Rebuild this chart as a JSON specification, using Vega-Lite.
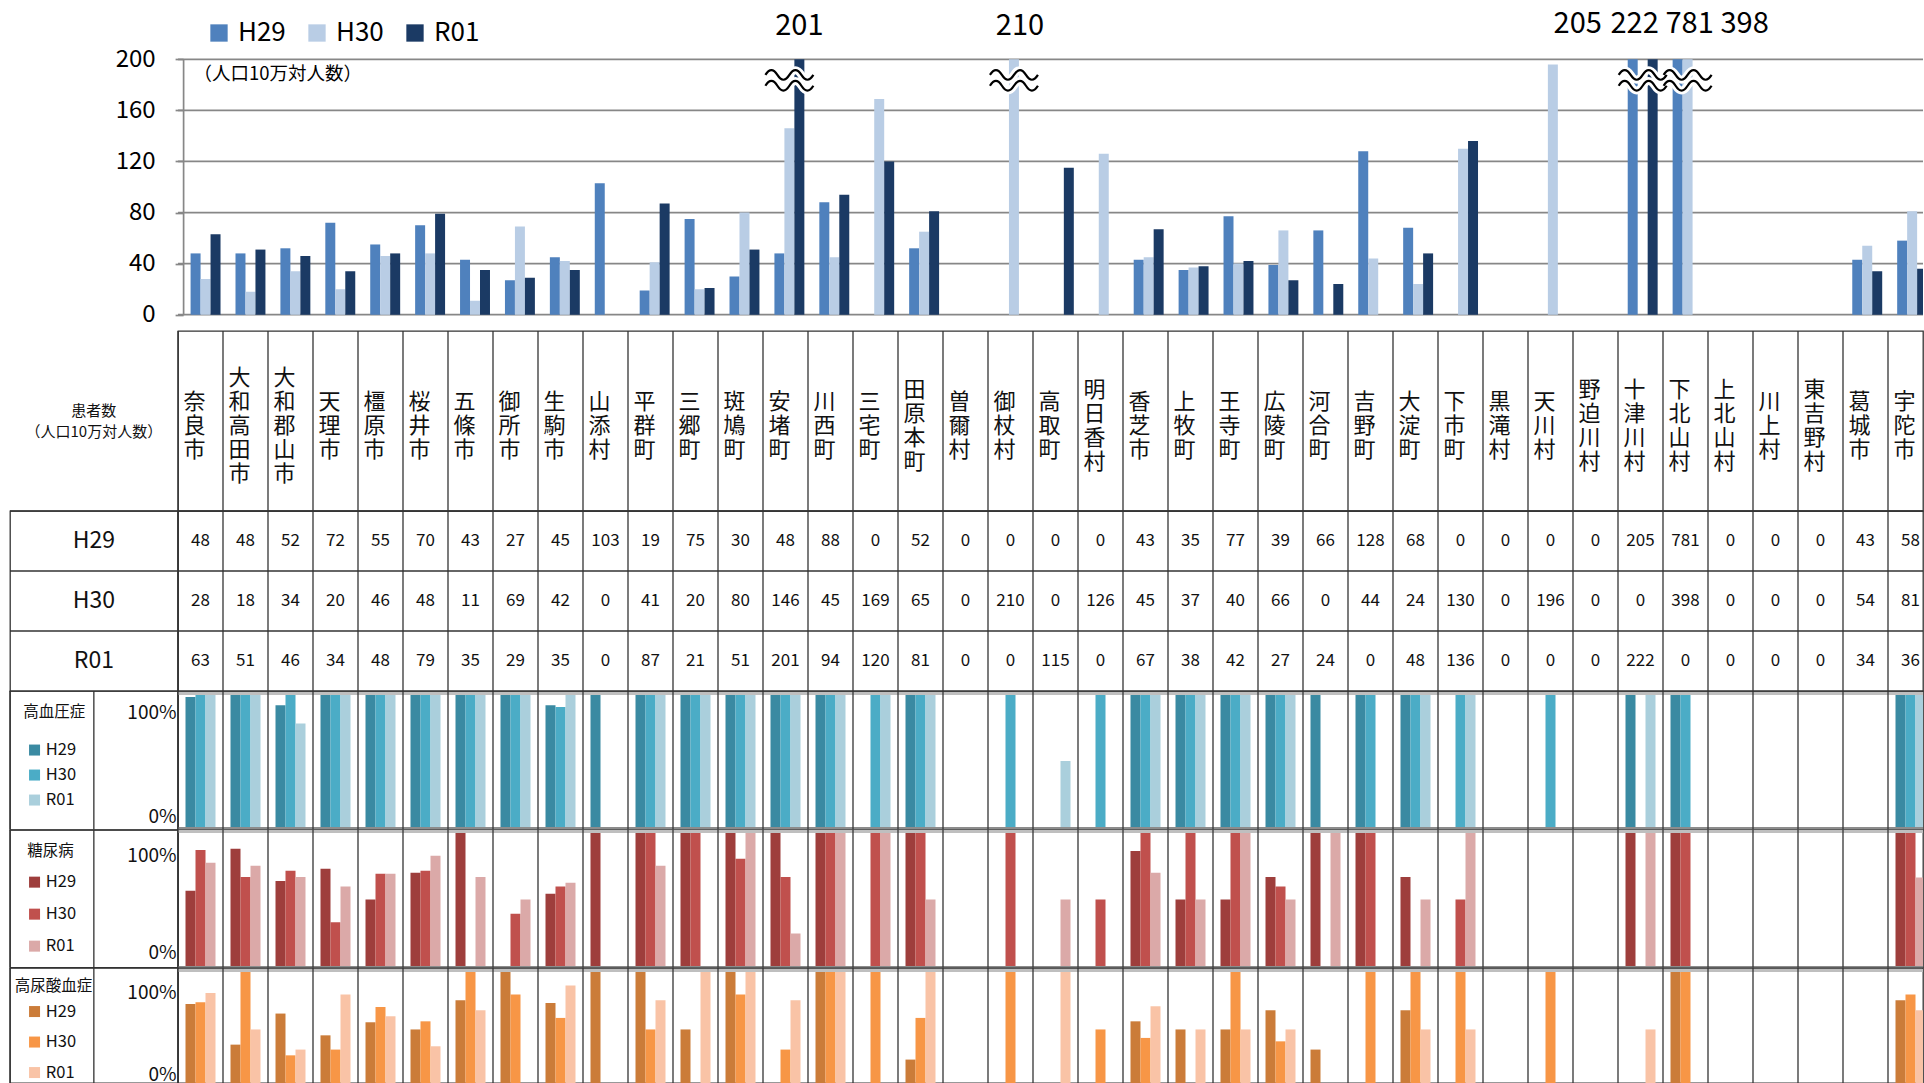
{
"$schema": "https://vega.github.io/schema/vega-lite/v6.json",
"background": "white",
"padding": {"left": 8, "top": 0, "right": 0, "bottom": 0},
"autosize": {"type": "pad"},
"config": {
  "font": "Noto Sans CJK JP",
  "view": {"stroke": "#333333", "strokeWidth": 1.3},
  "text": {"color": "#111111"},
  "axis": {"labelColor": "#111111", "labelFont": "Noto Sans CJK JP", "labelFlush": false},
  "legend": {"labelColor": "#111111", "titleColor": "#111111", "labelFont": "Noto Sans CJK JP", "titleFont": "Noto Sans CJK JP"}
},
"datasets": {
"pop": [
{"m":"奈良市","y":"H29","v":48},{"m":"奈良市","y":"H30","v":28},{"m":"奈良市","y":"R01","v":63},
{"m":"大和高田市","y":"H29","v":48},{"m":"大和高田市","y":"H30","v":18},{"m":"大和高田市","y":"R01","v":51},
{"m":"大和郡山市","y":"H29","v":52},{"m":"大和郡山市","y":"H30","v":34},{"m":"大和郡山市","y":"R01","v":46},
{"m":"天理市","y":"H29","v":72},{"m":"天理市","y":"H30","v":20},{"m":"天理市","y":"R01","v":34},
{"m":"橿原市","y":"H29","v":55},{"m":"橿原市","y":"H30","v":46},{"m":"橿原市","y":"R01","v":48},
{"m":"桜井市","y":"H29","v":70},{"m":"桜井市","y":"H30","v":48},{"m":"桜井市","y":"R01","v":79},
{"m":"五條市","y":"H29","v":43},{"m":"五條市","y":"H30","v":11},{"m":"五條市","y":"R01","v":35},
{"m":"御所市","y":"H29","v":27},{"m":"御所市","y":"H30","v":69},{"m":"御所市","y":"R01","v":29},
{"m":"生駒市","y":"H29","v":45},{"m":"生駒市","y":"H30","v":42},{"m":"生駒市","y":"R01","v":35},
{"m":"山添村","y":"H29","v":103},{"m":"山添村","y":"H30","v":0},{"m":"山添村","y":"R01","v":0},
{"m":"平群町","y":"H29","v":19},{"m":"平群町","y":"H30","v":41},{"m":"平群町","y":"R01","v":87},
{"m":"三郷町","y":"H29","v":75},{"m":"三郷町","y":"H30","v":20},{"m":"三郷町","y":"R01","v":21},
{"m":"斑鳩町","y":"H29","v":30},{"m":"斑鳩町","y":"H30","v":80},{"m":"斑鳩町","y":"R01","v":51},
{"m":"安堵町","y":"H29","v":48},{"m":"安堵町","y":"H30","v":146},{"m":"安堵町","y":"R01","v":201},
{"m":"川西町","y":"H29","v":88},{"m":"川西町","y":"H30","v":45},{"m":"川西町","y":"R01","v":94},
{"m":"三宅町","y":"H29","v":0},{"m":"三宅町","y":"H30","v":169},{"m":"三宅町","y":"R01","v":120},
{"m":"田原本町","y":"H29","v":52},{"m":"田原本町","y":"H30","v":65},{"m":"田原本町","y":"R01","v":81},
{"m":"曽爾村","y":"H29","v":0},{"m":"曽爾村","y":"H30","v":0},{"m":"曽爾村","y":"R01","v":0},
{"m":"御杖村","y":"H29","v":0},{"m":"御杖村","y":"H30","v":210},{"m":"御杖村","y":"R01","v":0},
{"m":"高取町","y":"H29","v":0},{"m":"高取町","y":"H30","v":0},{"m":"高取町","y":"R01","v":115},
{"m":"明日香村","y":"H29","v":0},{"m":"明日香村","y":"H30","v":126},{"m":"明日香村","y":"R01","v":0},
{"m":"香芝市","y":"H29","v":43},{"m":"香芝市","y":"H30","v":45},{"m":"香芝市","y":"R01","v":67},
{"m":"上牧町","y":"H29","v":35},{"m":"上牧町","y":"H30","v":37},{"m":"上牧町","y":"R01","v":38},
{"m":"王寺町","y":"H29","v":77},{"m":"王寺町","y":"H30","v":40},{"m":"王寺町","y":"R01","v":42},
{"m":"広陵町","y":"H29","v":39},{"m":"広陵町","y":"H30","v":66},{"m":"広陵町","y":"R01","v":27},
{"m":"河合町","y":"H29","v":66},{"m":"河合町","y":"H30","v":0},{"m":"河合町","y":"R01","v":24},
{"m":"吉野町","y":"H29","v":128},{"m":"吉野町","y":"H30","v":44},{"m":"吉野町","y":"R01","v":0},
{"m":"大淀町","y":"H29","v":68},{"m":"大淀町","y":"H30","v":24},{"m":"大淀町","y":"R01","v":48},
{"m":"下市町","y":"H29","v":0},{"m":"下市町","y":"H30","v":130},{"m":"下市町","y":"R01","v":136},
{"m":"黒滝村","y":"H29","v":0},{"m":"黒滝村","y":"H30","v":0},{"m":"黒滝村","y":"R01","v":0},
{"m":"天川村","y":"H29","v":0},{"m":"天川村","y":"H30","v":196},{"m":"天川村","y":"R01","v":0},
{"m":"野迫川村","y":"H29","v":0},{"m":"野迫川村","y":"H30","v":0},{"m":"野迫川村","y":"R01","v":0},
{"m":"十津川村","y":"H29","v":205},{"m":"十津川村","y":"H30","v":0},{"m":"十津川村","y":"R01","v":222},
{"m":"下北山村","y":"H29","v":781},{"m":"下北山村","y":"H30","v":398},{"m":"下北山村","y":"R01","v":0},
{"m":"上北山村","y":"H29","v":0},{"m":"上北山村","y":"H30","v":0},{"m":"上北山村","y":"R01","v":0},
{"m":"川上村","y":"H29","v":0},{"m":"川上村","y":"H30","v":0},{"m":"川上村","y":"R01","v":0},
{"m":"東吉野村","y":"H29","v":0},{"m":"東吉野村","y":"H30","v":0},{"m":"東吉野村","y":"R01","v":0},
{"m":"葛城市","y":"H29","v":43},{"m":"葛城市","y":"H30","v":54},{"m":"葛城市","y":"R01","v":34},
{"m":"宇陀市","y":"H29","v":58},{"m":"宇陀市","y":"H30","v":81},{"m":"宇陀市","y":"R01","v":36}
],
"pct": [
{"m":"奈良市","y":"H29","h":0.975,"d":0.565,"u":0.717},{"m":"奈良市","y":"H30","h":1,"d":0.865,"u":0.731},{"m":"奈良市","y":"R01","h":1,"d":0.771,"u":0.81},
{"m":"大和高田市","y":"H29","h":1,"d":0.875,"u":0.371},{"m":"大和高田市","y":"H30","h":1,"d":0.666,"u":1},{"m":"大和高田市","y":"R01","h":1,"d":0.749,"u":0.5},
{"m":"大和郡山市","y":"H29","h":0.914,"d":0.636,"u":0.635},{"m":"大和郡山市","y":"H30","h":1,"d":0.713,"u":0.28},{"m":"大和郡山市","y":"R01","h":0.778,"d":0.666,"u":0.329},
{"m":"天理市","y":"H29","h":1,"d":0.727,"u":0.45},{"m":"天理市","y":"H30","h":1,"d":0.333,"u":0.329},{"m":"天理市","y":"R01","h":1,"d":0.597,"u":0.796},
{"m":"橿原市","y":"H29","h":1,"d":0.5,"u":0.561},{"m":"橿原市","y":"H30","h":1,"d":0.69,"u":0.691},{"m":"橿原市","y":"R01","h":1,"d":0.69,"u":0.612},
{"m":"桜井市","y":"H29","h":1,"d":0.698,"u":0.5},{"m":"桜井市","y":"H30","h":1,"d":0.713,"u":0.569},{"m":"桜井市","y":"R01","h":1,"d":0.823,"u":0.357},
{"m":"五條市","y":"H29","h":1,"d":1,"u":0.748},{"m":"五條市","y":"H30","h":1,"d":0,"u":1},{"m":"五條市","y":"R01","h":1,"d":0.666,"u":0.663},
{"m":"御所市","y":"H29","h":1,"d":0,"u":1},{"m":"御所市","y":"H30","h":1,"d":0.396,"u":0.796},{"m":"御所市","y":"R01","h":1,"d":0.5,"u":0},
{"m":"生駒市","y":"H29","h":0.914,"d":0.543,"u":0.725},{"m":"生駒市","y":"H30","h":0.901,"d":0.597,"u":0.598},{"m":"生駒市","y":"R01","h":1,"d":0.624,"u":0.873},
{"m":"山添村","y":"H29","h":1,"d":1,"u":1},{"m":"山添村","y":"H30","h":0,"d":0,"u":0},{"m":"山添村","y":"R01","h":0,"d":0,"u":0},
{"m":"平群町","y":"H29","h":1,"d":1,"u":1},{"m":"平群町","y":"H30","h":1,"d":1,"u":0.5},{"m":"平群町","y":"R01","h":1,"d":0.749,"u":0.748},
{"m":"三郷町","y":"H29","h":1,"d":1,"u":0.5},{"m":"三郷町","y":"H30","h":1,"d":1,"u":0},{"m":"三郷町","y":"R01","h":1,"d":0,"u":1},
{"m":"斑鳩町","y":"H29","h":1,"d":1,"u":1},{"m":"斑鳩町","y":"H30","h":1,"d":0.8,"u":0.796},{"m":"斑鳩町","y":"R01","h":1,"d":1,"u":1},
{"m":"安堵町","y":"H29","h":1,"d":1,"u":0},{"m":"安堵町","y":"H30","h":1,"d":0.666,"u":0.329},{"m":"安堵町","y":"R01","h":1,"d":0.25,"u":0.748},
{"m":"川西町","y":"H29","h":1,"d":1,"u":1},{"m":"川西町","y":"H30","h":1,"d":1,"u":1},{"m":"川西町","y":"R01","h":1,"d":1,"u":1},
{"m":"三宅町","y":"H29","h":0,"d":0,"u":0},{"m":"三宅町","y":"H30","h":1,"d":1,"u":1},{"m":"三宅町","y":"R01","h":1,"d":1,"u":0},
{"m":"田原本町","y":"H29","h":1,"d":1,"u":0.244},{"m":"田原本町","y":"H30","h":1,"d":1,"u":0.598},{"m":"田原本町","y":"R01","h":1,"d":0.5,"u":1},
{"m":"曽爾村","y":"H29","h":0,"d":0,"u":0},{"m":"曽爾村","y":"H30","h":0,"d":0,"u":0},{"m":"曽爾村","y":"R01","h":0,"d":0,"u":0},
{"m":"御杖村","y":"H29","h":0,"d":0,"u":0},{"m":"御杖村","y":"H30","h":1,"d":1,"u":1},{"m":"御杖村","y":"R01","h":0,"d":0,"u":0},
{"m":"高取町","y":"H29","h":0,"d":0,"u":0},{"m":"高取町","y":"H30","h":0,"d":0,"u":0},{"m":"高取町","y":"R01","h":0.5,"d":0.5,"u":1},
{"m":"明日香村","y":"H29","h":0,"d":0,"u":0},{"m":"明日香村","y":"H30","h":1,"d":0.5,"u":0.5},{"m":"明日香村","y":"R01","h":0,"d":0,"u":0},
{"m":"香芝市","y":"H29","h":1,"d":0.857,"u":0.569},{"m":"香芝市","y":"H30","h":1,"d":1,"u":0.428},{"m":"香芝市","y":"R01","h":1,"d":0.698,"u":0.697},
{"m":"上牧町","y":"H29","h":1,"d":0.5,"u":0.5},{"m":"上牧町","y":"H30","h":1,"d":1,"u":0},{"m":"上牧町","y":"R01","h":1,"d":0.5,"u":0.5},
{"m":"王寺町","y":"H29","h":1,"d":0.5,"u":0.5},{"m":"王寺町","y":"H30","h":1,"d":1,"u":1},{"m":"王寺町","y":"R01","h":1,"d":1,"u":0.5},
{"m":"広陵町","y":"H29","h":1,"d":0.666,"u":0.663},{"m":"広陵町","y":"H30","h":1,"d":0.597,"u":0.399},{"m":"広陵町","y":"R01","h":1,"d":0.5,"u":0.5},
{"m":"河合町","y":"H29","h":1,"d":1,"u":0.329},{"m":"河合町","y":"H30","h":0,"d":0,"u":0},{"m":"河合町","y":"R01","h":0,"d":1,"u":0},
{"m":"吉野町","y":"H29","h":1,"d":1,"u":0},{"m":"吉野町","y":"H30","h":1,"d":1,"u":1},{"m":"吉野町","y":"R01","h":0,"d":0,"u":0},
{"m":"大淀町","y":"H29","h":1,"d":0.666,"u":0.663},{"m":"大淀町","y":"H30","h":1,"d":0,"u":1},{"m":"大淀町","y":"R01","h":1,"d":0.5,"u":0.5},
{"m":"下市町","y":"H29","h":0,"d":0,"u":0},{"m":"下市町","y":"H30","h":1,"d":0.5,"u":1},{"m":"下市町","y":"R01","h":1,"d":1,"u":0.5},
{"m":"黒滝村","y":"H29","h":0,"d":0,"u":0},{"m":"黒滝村","y":"H30","h":0,"d":0,"u":0},{"m":"黒滝村","y":"R01","h":0,"d":0,"u":0},
{"m":"天川村","y":"H29","h":0,"d":0,"u":0},{"m":"天川村","y":"H30","h":1,"d":0,"u":1},{"m":"天川村","y":"R01","h":0,"d":0,"u":0},
{"m":"野迫川村","y":"H29","h":0,"d":0,"u":0},{"m":"野迫川村","y":"H30","h":0,"d":0,"u":0},{"m":"野迫川村","y":"R01","h":0,"d":0,"u":0},
{"m":"十津川村","y":"H29","h":1,"d":1,"u":0},{"m":"十津川村","y":"H30","h":0,"d":0,"u":0},{"m":"十津川村","y":"R01","h":1,"d":1,"u":0.5},
{"m":"下北山村","y":"H29","h":1,"d":1,"u":1},{"m":"下北山村","y":"H30","h":1,"d":1,"u":1},{"m":"下北山村","y":"R01","h":0,"d":0,"u":0},
{"m":"上北山村","y":"H29","h":0,"d":0,"u":0},{"m":"上北山村","y":"H30","h":0,"d":0,"u":0},{"m":"上北山村","y":"R01","h":0,"d":0,"u":0},
{"m":"川上村","y":"H29","h":0,"d":0,"u":0},{"m":"川上村","y":"H30","h":0,"d":0,"u":0},{"m":"川上村","y":"R01","h":0,"d":0,"u":0},
{"m":"東吉野村","y":"H29","h":0,"d":0,"u":0},{"m":"東吉野村","y":"H30","h":0,"d":0,"u":0},{"m":"東吉野村","y":"R01","h":0,"d":0,"u":0},
{"m":"葛城市","y":"H29","h":0,"d":0,"u":0},{"m":"葛城市","y":"H30","h":0,"d":0,"u":0},{"m":"葛城市","y":"R01","h":0,"d":0,"u":0},
{"m":"宇陀市","y":"H29","h":1,"d":1,"u":0.748},{"m":"宇陀市","y":"H30","h":1,"d":1,"u":0.796},{"m":"宇陀市","y":"R01","h":1,"d":0.663,"u":0.663}
]
},
"columns": 2,
"spacing": 0,
"bounds": "flush",
"resolve": {"scale": {"color": "independent", "xOffset": "independent", "x": "independent", "y": "independent"}},
"concat": [
{
  "width": 167.7, "height": 330.7, "view": {"stroke": null},
  "data": {"values": [{"k": 1}]},
  "mark": {"type": "text", "text": " "}
},
{
  "width": 1745, "height": 330.7, "view": {"stroke": null},
  "layer": [
    {
      "data": {"values": [{"g": 0}, {"g": 40}, {"g": 80}, {"g": 120}, {"g": 160}, {"g": 200}]},
      "mark": {"type": "rule", "color": "#878787", "strokeWidth": 1.7},
      "encoding": {
        "y": {"field": "g", "type": "quantitative",
          "scale": {"domain": [0, 200], "range": [314.7, 59.3], "clamp": true, "nice": false, "zero": true},
          "axis": {"values": [0, 40, 80, 120, 160, 200], "title": null, "grid": false, "domainColor": "#878787", "domainWidth": 1.7, "tickColor": "#878787", "tickWidth": 1.7, "tickSize": 8, "labelFontSize": 24, "labelPadding": 20, "labelColor": "#000000", "offset": -5.1, "labelFlush": false}}
      }
    },
    {
      "data": {"name": "pop"},
      "mark": {"type": "bar", "clip": true},
      "encoding": {
        "x": {"field": "m", "type": "nominal", "axis": null,
          "scale": {"domain": ["奈良市","大和高田市","大和郡山市","天理市","橿原市","桜井市","五條市","御所市","生駒市","山添村","平群町","三郷町","斑鳩町","安堵町","川西町","三宅町","田原本町","曽爾村","御杖村","高取町","明日香村","香芝市","上牧町","王寺町","広陵町","河合町","吉野町","大淀町","下市町","黒滝村","天川村","野迫川村","十津川村","下北山村","上北山村","川上村","東吉野村","葛城市","宇陀市"], "range": [5.1, 1756.6], "paddingInner": 0, "paddingOuter": 0}},
        "xOffset": {"field": "y", "type": "nominal", "scale": {"paddingInner": 0, "paddingOuter": 0.75}},
        "y": {"field": "v", "type": "quantitative"},
        "color": {"field": "y", "type": "nominal",
          "scale": {"domain": ["H29", "H30", "R01"], "range": ["#4F81BD", "#B9CDE5", "#1B3A64"]},
          "legend": {"orient": "none", "legendX": 28, "legendY": 20, "direction": "horizontal", "title": null, "symbolType": "square", "symbolSize": 300, "symbolStrokeWidth": 0, "labelFontSize": 26, "labelOffset": 6, "columnPadding": 18, "padding": 0, "labelColor": "#000000"}}
      }
    },
    {
      "data": {"name": "pop"},
      "transform": [{"filter": "datum.v > 200"}, {"aggregate": [{"op": "count", "as": "n"}], "groupby": ["m"]}],
      "mark": {"type": "point", "shape": "M-1,-0.2Q-0.75,-0.6,-0.5,-0.2T0,-0.2T0.5,-0.2T1,-0.2M-1,0.25Q-0.75,-0.15,-0.5,0.25T0,0.25T0.5,0.25T1,0.25", "size": 2304, "filled": false, "stroke": "white", "strokeWidth": 8, "opacity": 1},
      "encoding": {"x": {"field": "m", "type": "nominal"}, "y": {"datum": 184}}
    },
    {
      "data": {"name": "pop"},
      "transform": [{"filter": "datum.v > 200"}, {"aggregate": [{"op": "count", "as": "n"}], "groupby": ["m"]}],
      "mark": {"type": "point", "shape": "M-1,-0.2Q-0.75,-0.6,-0.5,-0.2T0,-0.2T0.5,-0.2T1,-0.2M-1,0.25Q-0.75,-0.15,-0.5,0.25T0,0.25T0.5,0.25T1,0.25", "size": 2304, "filled": false, "stroke": "black", "strokeWidth": 2.2, "opacity": 1},
      "encoding": {"x": {"field": "m", "type": "nominal"}, "y": {"datum": 184}}
    },
    {
      "data": {"name": "pop"},
      "transform": [{"filter": "datum.v > 200 && datum.m == '安堵町'"}],
      "mark": {"type": "text", "fontSize": 29, "dy": -33, "baseline": "middle", "color": "#000000"},
      "encoding": {"x": {"field": "m", "type": "nominal"}, "xOffset": {"field": "y", "type": "nominal"}, "y": {"datum": 200}, "text": {"field": "v", "type": "quantitative"}}
    },
    {
      "data": {"name": "pop"},
      "transform": [{"filter": "datum.v > 200 && datum.m == '御杖村'"}],
      "mark": {"type": "text", "fontSize": 29, "dy": -33, "dx": 6, "baseline": "middle", "color": "#000000"},
      "encoding": {"x": {"field": "m", "type": "nominal"}, "xOffset": {"field": "y", "type": "nominal"}, "y": {"datum": 200}, "text": {"field": "v", "type": "quantitative"}}
    },
    {
      "data": {"name": "pop"},
      "transform": [{"filter": "datum.m == '十津川村' && datum.y == 'H29'"}],
      "mark": {"type": "text", "fontSize": 29, "dy": -35, "dx": -55, "baseline": "middle", "color": "#000000"},
      "encoding": {"x": {"field": "m", "type": "nominal"}, "xOffset": {"field": "y", "type": "nominal"}, "y": {"datum": 200}, "text": {"field": "v", "type": "quantitative"}}
    },
    {
      "data": {"name": "pop"},
      "transform": [{"filter": "datum.m == '十津川村' && datum.y == 'R01'"}],
      "mark": {"type": "text", "fontSize": 29, "dy": -35, "dx": -18, "baseline": "middle", "color": "#000000"},
      "encoding": {"x": {"field": "m", "type": "nominal"}, "xOffset": {"field": "y", "type": "nominal"}, "y": {"datum": 200}, "text": {"field": "v", "type": "quantitative"}}
    },
    {
      "data": {"name": "pop"},
      "transform": [{"filter": "datum.m == '下北山村' && datum.y == 'H29'"}],
      "mark": {"type": "text", "fontSize": 29, "dy": -35, "dx": 12, "baseline": "middle", "color": "#000000"},
      "encoding": {"x": {"field": "m", "type": "nominal"}, "xOffset": {"field": "y", "type": "nominal"}, "y": {"datum": 200}, "text": {"field": "v", "type": "quantitative"}}
    },
    {
      "data": {"name": "pop"},
      "transform": [{"filter": "datum.m == '下北山村' && datum.y == 'H30'"}],
      "mark": {"type": "text", "fontSize": 29, "dy": -35, "dx": 57, "baseline": "middle", "color": "#000000"},
      "encoding": {"x": {"field": "m", "type": "nominal"}, "xOffset": {"field": "y", "type": "nominal"}, "y": {"datum": 200}, "text": {"field": "v", "type": "quantitative"}}
    },
    {
      "data": {"values": [{"t": "（人口10万対人数）"}]},
      "mark": {"type": "text", "align": "left", "baseline": "middle", "fontSize": 18.5, "dx": -12, "color": "#000000"},
      "encoding": {"x": {"datum": "奈良市"}, "y": {"datum": 188.5}, "text": {"field": "t", "type": "nominal"}}
    }
  ]
},
{
  "width": 167.7, "height": 180,
  "data": {"values": [{"k": 1}]},
  "mark": {"type": "text", "text": ["患者数", "（人口10万対人数）"], "fontSize": 15, "lineHeight": 21, "baseline": "middle", "align": "center", "dy": -10.5}
},
{
  "width": 1745, "height": 180,
  "data": {"name": "pop"},
  "transform": [{"filter": "datum.y == 'H29'"}, {"calculate": "split(datum.m, '')", "as": "chars"}, {"calculate": "length(datum.m)", "as": "n"}],
  "layer": [
    {
      "mark": {"type": "text", "fontSize": 22, "lineHeight": 24, "baseline": "middle", "align": "center", "dx": -6},
      "encoding": {
        "x": {"field": "m", "type": "nominal", "axis": null,
          "scale": {"domain": ["奈良市","大和高田市","大和郡山市","天理市","橿原市","桜井市","五條市","御所市","生駒市","山添村","平群町","三郷町","斑鳩町","安堵町","川西町","三宅町","田原本町","曽爾村","御杖村","高取町","明日香村","香芝市","上牧町","王寺町","広陵町","河合町","吉野町","大淀町","下市町","黒滝村","天川村","野迫川村","十津川村","下北山村","上北山村","川上村","東吉野村","葛城市","宇陀市"], "range": [0, 1755], "paddingInner": 0, "paddingOuter": 0}},
        "y": {"field": "n", "type": "quantitative", "axis": null, "scale": {"domain": [1, 5], "range": [95.3, 47.3], "nice": false, "zero": false}},
        "text": {"field": "chars", "type": "nominal"}
      }
    },
    {
      "mark": {"type": "rule", "color": "#333333", "strokeWidth": 1.3},
      "encoding": {"x": {"field": "m", "type": "nominal", "bandPosition": 0}}
    }
  ]
},
{
  "width": 167.7, "height": 180,
  "data": {"values": [{"r": "H29"}, {"r": "H30"}, {"r": "R01"}]},
  "layer": [
    {
      "mark": {"type": "text", "fontSize": 23, "baseline": "middle", "align": "center"},
      "encoding": {"y": {"field": "r", "type": "nominal", "scale": {"paddingInner": 0, "paddingOuter": 0}, "axis": null}, "text": {"field": "r", "type": "nominal"}}
    },
    {
      "mark": {"type": "rule", "color": "#333333", "strokeWidth": 1.3},
      "encoding": {"y": {"field": "r", "type": "nominal", "bandPosition": 0}}
    }
  ]
},
{
  "width": 1745, "height": 180,
  "data": {"name": "pop"},
  "layer": [
    {
      "mark": {"type": "text", "fontSize": 17, "baseline": "middle", "align": "center"},
      "encoding": {
        "x": {"field": "m", "type": "nominal", "axis": null,
          "scale": {"domain": ["奈良市","大和高田市","大和郡山市","天理市","橿原市","桜井市","五條市","御所市","生駒市","山添村","平群町","三郷町","斑鳩町","安堵町","川西町","三宅町","田原本町","曽爾村","御杖村","高取町","明日香村","香芝市","上牧町","王寺町","広陵町","河合町","吉野町","大淀町","下市町","黒滝村","天川村","野迫川村","十津川村","下北山村","上北山村","川上村","東吉野村","葛城市","宇陀市"], "range": [0, 1755], "paddingInner": 0, "paddingOuter": 0}},
        "y": {"field": "y", "type": "nominal", "axis": null, "scale": {"domain": ["H29", "H30", "R01"], "paddingInner": 0, "paddingOuter": 0}},
        "text": {"field": "v", "type": "quantitative"}
      }
    },
    {
      "transform": [{"filter": "datum.y == 'H29'"}],
      "mark": {"type": "rule", "color": "#333333", "strokeWidth": 1.3},
      "encoding": {"x": {"field": "m", "type": "nominal", "bandPosition": 0}}
    },
    {
      "transform": [{"filter": "datum.m == '奈良市'"}],
      "mark": {"type": "rule", "color": "#333333", "strokeWidth": 1.3},
      "encoding": {"y": {"field": "y", "type": "nominal", "bandPosition": 0}}
    }
  ]
},
{
  "width": 167.7, "height": 138.6,
  "data": {"values": [{"c": "a"}, {"c": "b"}]},
  "mark": {"type": "rule", "color": "#333333", "strokeWidth": 1.3},
  "encoding": {"x": {"field": "c", "type": "nominal", "bandPosition": 0, "axis": null, "scale": {"paddingInner": 0, "paddingOuter": 0}}}
},
{
  "width": 1745, "height": 138.6,
  "data": {"name": "pct"},
  "layer": [
    {
      "mark": {"type": "bar", "clip": true},
      "encoding": {
        "x": {"field": "m", "type": "nominal", "axis": null,
          "scale": {"domain": ["奈良市","大和高田市","大和郡山市","天理市","橿原市","桜井市","五條市","御所市","生駒市","山添村","平群町","三郷町","斑鳩町","安堵町","川西町","三宅町","田原本町","曽爾村","御杖村","高取町","明日香村","香芝市","上牧町","王寺町","広陵町","河合町","吉野町","大淀町","下市町","黒滝村","天川村","野迫川村","十津川村","下北山村","上北山村","川上村","東吉野村","葛城市","宇陀市"], "range": [0, 1755], "paddingInner": 0, "paddingOuter": 0}},
        "xOffset": {"field": "y", "type": "nominal", "scale": {"paddingInner": 0, "paddingOuter": 0.75}},
        "y": {"field": "h", "type": "quantitative",
          "scale": {"domain": [0, 1], "range": [137.6, 2.6], "clamp": true, "nice": false},
          "axis": {"values": [0.091, 0.861], "labelExpr": "datum.value > 0.5 ? '100%' : '0%'", "title": null, "grid": false, "domain": false, "ticks": false, "labelFontSize": 19, "labelPadding": 2, "labelFlush": false, "labelOverlap": false}},
        "color": {"field": "y", "type": "nominal",
          "scale": {"domain": ["H29", "H30", "R01"], "range": ["#3A8AA2", "#4BACC6", "#AACFDC"]},
          "legend": {"orient": "none", "legendX": -154.7, "legendY": 14.3, "direction": "vertical", "title": "高血圧症", "titleFontSize": 15.5, "titleFontWeight": "normal", "titlePadding": 21, "labelFontSize": 16.5, "symbolType": "square", "symbolSize": 121, "symbolStrokeWidth": 0, "rowPadding": 8, "symbolOffset": 3, "labelOffset": 3, "padding": 0}}
      }
    },
    {"mark": {"type": "rule", "color": "#BFBFBF", "strokeWidth": 2.5, "clip": true}, "encoding": {"y": {"datum": 1}}},
    {"mark": {"type": "rule", "color": "#8C8C8C", "strokeWidth": 3, "clip": true}, "encoding": {"y": {"datum": 0}}},
    {
      "transform": [{"filter": "datum.y == 'H29'"}],
      "mark": {"type": "rule", "color": "#333333", "strokeWidth": 1.3},
      "encoding": {"x": {"field": "m", "type": "nominal", "bandPosition": 0}}
    }
  ]
},
{
  "width": 167.7, "height": 137.4,
  "data": {"values": [{"c": "a"}, {"c": "b"}]},
  "mark": {"type": "rule", "color": "#333333", "strokeWidth": 1.3},
  "encoding": {"x": {"field": "c", "type": "nominal", "bandPosition": 0, "axis": null, "scale": {"paddingInner": 0, "paddingOuter": 0}}}
},
{
  "width": 1745, "height": 137.4,
  "data": {"name": "pct"},
  "layer": [
    {
      "mark": {"type": "bar", "clip": true},
      "encoding": {
        "x": {"field": "m", "type": "nominal", "axis": null,
          "scale": {"domain": ["奈良市","大和高田市","大和郡山市","天理市","橿原市","桜井市","五條市","御所市","生駒市","山添村","平群町","三郷町","斑鳩町","安堵町","川西町","三宅町","田原本町","曽爾村","御杖村","高取町","明日香村","香芝市","上牧町","王寺町","広陵町","河合町","吉野町","大淀町","下市町","黒滝村","天川村","野迫川村","十津川村","下北山村","上北山村","川上村","東吉野村","葛城市","宇陀市"], "range": [0, 1755], "paddingInner": 0, "paddingOuter": 0}},
        "xOffset": {"field": "y", "type": "nominal", "scale": {"paddingInner": 0, "paddingOuter": 0.75}},
        "y": {"field": "d", "type": "quantitative",
          "scale": {"domain": [0, 1], "range": [137.4, 1.7], "clamp": true, "nice": false},
          "axis": {"values": [0.111, 0.823], "labelExpr": "datum.value > 0.5 ? '100%' : '0%'", "title": null, "grid": false, "domain": false, "ticks": false, "labelFontSize": 19, "labelPadding": 2, "labelFlush": false, "labelOverlap": false}},
        "color": {"field": "y", "type": "nominal",
          "scale": {"domain": ["H29", "H30", "R01"], "range": ["#9E3E3C", "#C0504D", "#DBA9A8"]},
          "legend": {"orient": "none", "legendX": -150.7, "legendY": 14.4, "direction": "vertical", "title": "糖尿病", "titleFontSize": 15.5, "titleFontWeight": "normal", "titlePadding": 14, "labelFontSize": 16.5, "symbolType": "square", "symbolSize": 121, "symbolStrokeWidth": 0, "rowPadding": 15, "symbolOffset": -1, "labelOffset": 3, "padding": 0}}
      }
    },
    {"mark": {"type": "rule", "color": "#BFBFBF", "strokeWidth": 2.5, "clip": true}, "encoding": {"y": {"datum": 1}}},
    {"mark": {"type": "rule", "color": "#8C8C8C", "strokeWidth": 3, "clip": true}, "encoding": {"y": {"datum": 0}}},
    {
      "transform": [{"filter": "datum.y == 'H29'"}],
      "mark": {"type": "rule", "color": "#333333", "strokeWidth": 1.3},
      "encoding": {"x": {"field": "m", "type": "nominal", "bandPosition": 0}}
    }
  ]
},
{
  "width": 167.7, "height": 115,
  "data": {"values": [{"c": "a"}, {"c": "b"}]},
  "mark": {"type": "rule", "color": "#333333", "strokeWidth": 1.3},
  "encoding": {"x": {"field": "c", "type": "nominal", "bandPosition": 0, "axis": null, "scale": {"paddingInner": 0, "paddingOuter": 0}}}
},
{
  "width": 1745, "height": 115,
  "data": {"name": "pct"},
  "layer": [
    {
      "mark": {"type": "bar", "clip": true},
      "encoding": {
        "x": {"field": "m", "type": "nominal", "axis": null,
          "scale": {"domain": ["奈良市","大和高田市","大和郡山市","天理市","橿原市","桜井市","五條市","御所市","生駒市","山添村","平群町","三郷町","斑鳩町","安堵町","川西町","三宅町","田原本町","曽爾村","御杖村","高取町","明日香村","香芝市","上牧町","王寺町","広陵町","河合町","吉野町","大淀町","下市町","黒滝村","天川村","野迫川村","十津川村","下北山村","上北山村","川上村","東吉野村","葛城市","宇陀市"], "range": [0, 1755], "paddingInner": 0, "paddingOuter": 0}},
        "xOffset": {"field": "y", "type": "nominal", "scale": {"paddingInner": 0, "paddingOuter": 0.75}},
        "y": {"field": "u", "type": "quantitative",
          "scale": {"domain": [0, 1], "range": [120.3, 2.6], "clamp": true, "nice": false},
          "axis": {"values": [0.119, 0.81], "labelExpr": "datum.value > 0.5 ? '100%' : '0%'", "title": null, "grid": false, "domain": false, "ticks": false, "labelFontSize": 19, "labelPadding": 2, "labelFlush": false, "labelOverlap": false}},
        "color": {"field": "y", "type": "nominal",
          "scale": {"domain": ["H29", "H30", "R01"], "range": ["#CB7C39", "#F79646", "#F9C3A6"]},
          "legend": {"orient": "none", "legendX": -163.3, "legendY": 11.3, "direction": "vertical", "title": "高尿酸血症", "titleFontSize": 15.5, "titleFontWeight": "normal", "titlePadding": 8.5, "labelFontSize": 16.5, "symbolType": "square", "symbolSize": 121, "symbolStrokeWidth": 0, "rowPadding": 13.5, "symbolOffset": 11.6, "labelOffset": 3, "padding": 0}}
      }
    },
    {"mark": {"type": "rule", "color": "#BFBFBF", "strokeWidth": 2.5, "clip": true}, "encoding": {"y": {"datum": 1}}},
    {
      "transform": [{"filter": "datum.y == 'H29'"}],
      "mark": {"type": "rule", "color": "#333333", "strokeWidth": 1.3},
      "encoding": {"x": {"field": "m", "type": "nominal", "bandPosition": 0}}
    }
  ]
}
]
}
